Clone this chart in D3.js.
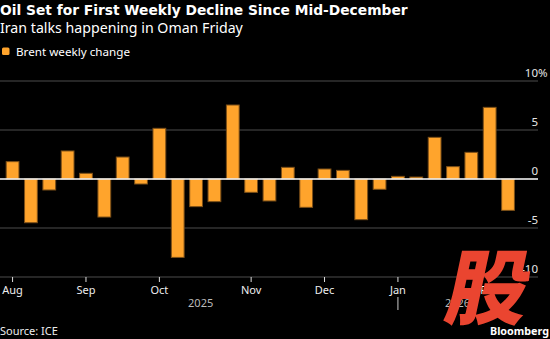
<!DOCTYPE html>
<html>
<head>
<meta charset="utf-8">
<script src="https://cdn.jsdelivr.net/npm/d3@7.9.0/dist/d3.min.js"></script>
<style>
  html, body { margin: 0; padding: 0; background: #000; }
  svg { display: block; }
</style>
</head>
<body>
<div id="chart"></div>
<script>
/* Brent weekly % change, weeks ending Friday */
const weeks = [
  '2025-08-01', '2025-08-08', '2025-08-15', '2025-08-22', '2025-08-29',
  '2025-09-05', '2025-09-12', '2025-09-19', '2025-09-26', '2025-10-03',
  '2025-10-10', '2025-10-17', '2025-10-24', '2025-10-31', '2025-11-07',
  '2025-11-14', '2025-11-21', '2025-11-28', '2025-12-05', '2025-12-12',
  '2025-12-19', '2025-12-26', '2026-01-02', '2026-01-09', '2026-01-16',
  '2026-01-23', '2026-01-30', '2026-02-06'
];
const changes = [
  1.77, -4.46, -1.12, 2.86, 0.58,
  -3.88, 2.24, -0.51, 5.17, -8.0,
  -2.82, -2.31, 7.55, -1.36, -2.24,
  1.19, -2.89, 1.02, 0.88, -4.15,
  -1.05, 0.27, 0.20, 4.25, 1.26,
  2.72, 7.31, -3.2
];

/* month labels sit on these weeks */
const monthWeeks  = ['2025-08-01', '2025-08-29', '2025-09-26', '2025-10-31', '2025-11-28', '2025-12-26', '2026-01-30'];
const monthLabels = ['Aug', 'Sep', 'Oct', 'Nov', 'Dec', 'Jan', 'Feb'];
const yearLabels  = ['2025', '2026'];
const yTicks      = [10, 5, 0, -5, -10];

const W = 550, H = 339;
const ORANGE = '#ffa42c';
const SANS = '"Noto Sans", "Open Sans", sans-serif';

const svg = d3.select('#chart').append('svg')
  .attr('width', W).attr('height', H)
  .style('background', '#000');

// shrink/grow a text node until it spans the wanted width
function fit(sel, width) {
  const fs = parseFloat(sel.attr('font-size'));
  const w = sel.node().getComputedTextLength();
  sel.attr('font-size', (fs * width / w).toFixed(2));
  return sel;
}

/* ── header ───────────────────────────── */
fit(svg.append('text')
  .attr('x', 0).attr('y', 15)
  .attr('font-family', '"DejaVu Sans", Verdana, sans-serif')
  .attr('font-weight', 'bold')
  .attr('font-size', 15)
  .attr('fill', '#fff')
  .text('Oil Set for First Weekly Decline Since Mid-December'), 408);

fit(svg.append('text')
  .attr('x', 0).attr('y', 33)
  .attr('font-family', SANS)
  .attr('font-size', 14)
  .attr('fill', '#fff')
  .text('Iran talks happening in Oman Friday'), 243);

svg.append('rect')
  .attr('x', 2).attr('y', 47.5).attr('width', 7.5).attr('height', 7.5)
  .attr('rx', 1.5).attr('fill', ORANGE);

fit(svg.append('text')
  .attr('x', 16).attr('y', 56)
  .attr('font-family', SANS)
  .attr('font-size', 12)
  .attr('fill', '#fff')
  .text('Brent weekly change'), 114);

/* ── scales ───────────────────────────── */
const plotRight = 538;

const x = d3.scaleBand()
  .domain(weeks)
  .range([3.4, 517.2])
  .paddingInner(0.25)
  .paddingOuter(0.125);

const y = d3.scaleLinear()
  .domain([-10, 10])
  .range([277, 81]);

/* gridlines + right-hand labels */
const grid = svg.append('g');
grid.selectAll('line')
  .data(yTicks.filter(d => d !== 0))
  .join('line')
  .attr('x1', 0).attr('x2', plotRight)
  .attr('y1', d => y(d)).attr('y2', d => y(d))
  .attr('stroke', '#4d4d4d').attr('stroke-width', 1);

const ylab = svg.append('g')
  .attr('font-family', SANS)
  .attr('font-size', 11.5)
  .attr('fill', '#e6e6e6');
ylab.selectAll('text')
  .data(yTicks)
  .join('text')
  .attr('x', plotRight)
  .attr('y', d => y(d) - 4)
  .attr('text-anchor', 'end')
  .text(d => d);
ylab.append('text')
  .attr('x', plotRight).attr('y', y(10) - 4)
  .text('%');

/* ── bars ─────────────────────────────── */
svg.append('g')
  .selectAll('rect')
  .data(weeks.map((w, i) => ({ week: w, value: changes[i] })))
  .join('rect')
  .attr('x', d => x(d.week) + 0.5)
  .attr('width', x.bandwidth() - 1)
  .attr('y', d => y(Math.max(0, d.value)))
  .attr('height', d => Math.abs(y(d.value) - y(0)))
  .attr('fill', ORANGE)
  .attr('stroke', '#7d5018')
  .attr('stroke-width', 1);

/* zero line */
svg.append('line')
  .attr('x1', 0).attr('x2', plotRight)
  .attr('y1', y(0)).attr('y2', y(0))
  .attr('stroke', '#fff').attr('stroke-width', 1.5);

/* ── x axis ───────────────────────────── */
const xAxis = svg.append('g')
  .attr('transform', `translate(0,${y(-10)})`)
  .call(d3.axisBottom(x)
    .tickValues(monthWeeks)
    .tickSize(5)
    .tickFormat((d, i) => monthLabels[i]));
xAxis.select('.domain').remove();
xAxis.selectAll('.tick line').attr('stroke', '#ddd');
xAxis.selectAll('.tick text')
  .attr('y', 9)
  .attr('fill', '#eee')
  .attr('font-family', SANS)
  .attr('font-size', 11);

/* year break under January */
const janX = x('2025-12-26') + x.bandwidth() / 2;
svg.append('line')
  .attr('x1', janX).attr('x2', janX)
  .attr('y1', 297).attr('y2', 310)
  .attr('stroke', '#ccc').attr('stroke-width', 1);

const [r0, r1] = x.range();
svg.append('g')
  .attr('font-family', SANS)
  .attr('font-size', 11)
  .attr('fill', '#bbb')
  .attr('text-anchor', 'middle')
  .selectAll('text')
  .data(yearLabels)
  .join('text')
  .attr('x', (d, i) => i === 0 ? (r0 + janX) / 2 : (janX + r1) / 2)
  .attr('y', 307)
  .text(d => d);

/* ── footer ───────────────────────────── */
svg.append('text')
  .attr('x', 0).attr('y', 335)
  .attr('font-family', SANS)
  .attr('font-size', 11)
  .attr('fill', '#eee')
  .text('Source: ICE');

fit(svg.append('text')
  .attr('x', 490).attr('y', 335)
  .attr('font-family', SANS)
  .attr('font-weight', 'bold')
  .attr('font-size', 11)
  .attr('fill', '#fff')
  .text('Bloomberg'), 59);

/* red stamp */
svg.append('text')
  .attr('transform', 'translate(483,318) skewX(-12)')
  .attr('text-anchor', 'middle')
  .attr('font-family', '"Noto Sans CJK SC", sans-serif')
  .attr('font-weight', 900)
  .attr('font-size', 82)
  .attr('fill', '#ea4530')
  .text('股');
</script>
</body>
</html>
